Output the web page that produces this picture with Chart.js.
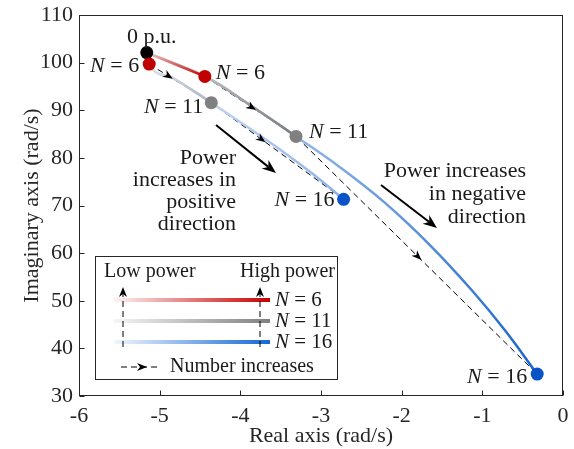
<!DOCTYPE html>
<html>
<head>
<meta charset="utf-8">
<script src="https://cdn.jsdelivr.net/npm/chart.js@4.4.1/dist/chart.umd.min.js"></script>
<style>
  html, body { margin: 0; padding: 0; background: #fff; }
  #wrap { width: 574px; height: 449px; }
</style>
</head>
<body>
<div id="wrap"><canvas id="myChart" width="574" height="449"></canvas></div>
<script>
// upper branch: power increases in negative direction
const upperRe = [-5.16, -4.44, -3.88, -3.31, -2.77, -2.21, -1.65, -1.13, -0.72, -0.32];
const upperIm = [102.1, 97.1, 91.1, 84.5, 78.1, 70.6, 61.7, 52.2, 43.8, 34.6];
// lower branch: power increases in positive direction
const lowerRe = [-5.16, -5.13, -4.87, -4.62, -4.36, -3.93, -3.48, -3.10, -2.72];
const lowerIm = [102.1, 99.7, 97.0, 94.5, 91.6, 86.7, 81.4, 76.6, 71.3];
// number of units and index of their high power point on each branch
const nUnits = ['6', '11', '16'];
const upperEnd = [1, 3, 9];
const lowerEnd = [1, 4, 8];
const xTicks = [-6, -5, -4, -3, -2, -1, 0];
const yTicks = [30, 40, 50, 60, 70, 80, 90, 100, 110];

const dotColors = ['#c00000', '#808080', '#0a52c8'];
const upperLight = ['#f0c4c4', '#e0e0e0', '#d2e0f6'];
const upperDark = ['#c00000', '#7a7a7a', '#1562cc'];
const lowerLight = ['#f0c4c4', '#e8e9ee', '#dae5f7'];
const lowerDark = ['#d47c7c', '#aeb4c2', '#8eb0e8'];
const legendLight = ['#fdf3f3', '#f6f6f6', '#f1f6fd'];
const legendDark = ['#c80000', '#808080', '#1468d4'];

const serif = '"Liberation Serif", "Times New Roman", serif';
const FS = 22;   // axes and annotations
const LS = 20;   // legend box

function pts(re, im, last) {
    const out = [];
    for (let i = 0; i <= last; i++) out.push({ x: re[i], y: im[i] });
    return out;
}

function gradient(chart, data, c0, c1) {
    const xs = chart.scales.x, ys = chart.scales.y;
    if (!xs || !ys || !chart.chartArea) return c1;
    const a = data[0], b = data[data.length - 1];
    const g = chart.ctx.createLinearGradient(
        xs.getPixelForValue(a.x), ys.getPixelForValue(a.y),
        xs.getPixelForValue(b.x), ys.getPixelForValue(b.y));
    g.addColorStop(0, c0);
    g.addColorStop(1, c1);
    return g;
}

const datasets = [];

// markers on top
const dots = [{ x: upperRe[0], y: upperIm[0] }];
const dotFill = ['#000000'];
nUnits.forEach((n, i) => {
    dots.push({ x: lowerRe[lowerEnd[i]], y: lowerIm[lowerEnd[i]] });
    dots.push({ x: upperRe[upperEnd[i]], y: upperIm[upperEnd[i]] });
    dotFill.push(dotColors[i], dotColors[i]);
});
datasets.push({
    data: dots,
    showLine: false,
    pointRadius: 6.5,
    pointBorderWidth: 0,
    pointBackgroundColor: dotFill,
    order: 0
});

nUnits.forEach((n, i) => {
    const up = pts(upperRe, upperIm, upperEnd[i]);
    const lo = pts(lowerRe, lowerIm, lowerEnd[i]);
    datasets.push({
        data: up,
        borderWidth: 2.5,
        borderColor: c => gradient(c.chart, up, upperLight[i], upperDark[i]),
        pointRadius: 0,
        tension: 0.4,
        order: i + 1
    });
    datasets.push({
        data: lo,
        borderWidth: 2.5,
        borderColor: c => gradient(c.chart, lo, lowerLight[i], lowerDark[i]),
        pointRadius: 0,
        cubicInterpolationMode: 'monotone',
        order: i + 1
    });
});

// dashed "number increases" paths
const dashUp = upperEnd.map(k => ({ x: upperRe[k], y: upperIm[k] }));
const dashLo = lowerEnd.map(k => ({ x: lowerRe[k], y: lowerIm[k] }));
[dashUp, dashLo].forEach(d => datasets.push({
    data: d,
    borderColor: '#000',
    borderWidth: 1,
    borderDash: [6, 4],
    pointRadius: 0,
    tension: 0,
    order: 5
}));

function head(ctx, tx, ty, ang, len, half) {
    const c = Math.cos(ang), s = Math.sin(ang);
    ctx.beginPath();
    ctx.moveTo(tx, ty);
    ctx.lineTo(tx - len * c + half * s, ty - len * s - half * c);
    ctx.lineTo(tx - 0.7 * len * c, ty - 0.7 * len * s);
    ctx.lineTo(tx - len * c - half * s, ty - len * s + half * c);
    ctx.closePath();
    ctx.fill();
}

function arrow(ctx, x0, y0, x1, y1, w, len, half) {
    const ang = Math.atan2(y1 - y0, x1 - x0);
    ctx.lineWidth = w;
    ctx.beginPath();
    ctx.moveTo(x0, y0);
    ctx.lineTo(x1 - 0.7 * len * Math.cos(ang), y1 - 0.7 * len * Math.sin(ang));
    ctx.stroke();
    head(ctx, x1, y1, ang, len, half);
}

function nLabel(ctx, n, x, y, align, size) {
    const it = 'italic ' + size + 'px ' + serif, rm = size + 'px ' + serif;
    const rest = ' = ' + n;
    ctx.font = it;
    const w1 = ctx.measureText('N').width;
    ctx.font = rm;
    const w2 = ctx.measureText(rest).width;
    const x0 = align === 'right' ? x - w1 - w2 : x;
    ctx.textAlign = 'left';
    ctx.textBaseline = 'middle';
    ctx.font = it;
    ctx.fillText('N', x0, y);
    ctx.font = rm;
    ctx.fillText(rest, x0 + w1, y);
}

function lines(ctx, arr, x, y0, step) {
    ctx.font = FS + 'px ' + serif;
    ctx.textAlign = 'right';
    ctx.textBaseline = 'middle';
    arr.forEach((t, k) => ctx.fillText(t, x, y0 + k * step));
}

const decor = {
    id: 'decor',
    beforeDatasetsDraw(chart) {
        const { ctx, chartArea: a, scales: { x, y } } = chart;
        ctx.save();
        ctx.strokeStyle = '#262626';
        ctx.lineWidth = 1;
        const L = Math.round(a.left) + 0.5, R = Math.round(a.right) - 0.5;
        const T = Math.round(a.top) + 0.5, B = Math.round(a.bottom) - 0.5;
        ctx.strokeRect(L, T, R - L, B - T);
        ctx.beginPath();
        xTicks.forEach(v => {
            const px = Math.round(x.getPixelForValue(v)) + 0.5;
            ctx.moveTo(px, B); ctx.lineTo(px, B - 5);
        });
        yTicks.forEach(v => {
            const py = Math.round(y.getPixelForValue(v)) + 0.5;
            ctx.moveTo(L, py); ctx.lineTo(L + 5, py);
        });
        ctx.stroke();
        ctx.restore();
    },
    afterDatasetsDraw(chart) {
        const { ctx, scales: { x, y } } = chart;
        const P = p => [x.getPixelForValue(p.x), y.getPixelForValue(p.y)];
        ctx.save();
        ctx.fillStyle = '#000';
        ctx.strokeStyle = '#000';

        // arrowheads on the dashed paths
        const heads = [[dashUp, [0.56, 0.52]], [dashLo, [0.38, 0.41]]];
        heads.forEach(([d, ts]) => {
            for (let k = 0; k < d.length - 1; k++) {
                const [x0, y0] = P(d[k]), [x1, y1] = P(d[k + 1]);
                const t = ts[k];
                head(ctx, x0 + t * (x1 - x0), y0 + t * (y1 - y0), Math.atan2(y1 - y0, x1 - x0), 10, 4);
            }
        });

        // power direction arrows
        arrow(ctx, 216, 125, 276, 173, 2, 14, 5.5);
        arrow(ctx, 381, 185, 437, 228, 2, 14, 5.5);

        ctx.fillStyle = '#1a1a1a';
        // labels at the markers
        const [bx, by] = P(dots[0]);
        ctx.font = FS + 'px ' + serif;
        ctx.textAlign = 'center';
        ctx.textBaseline = 'middle';
        ctx.fillText('0 p.u.', bx + 5, by - 15);
        const offs = [[-10, 2, 11, -3], [-8, 5, 13, -4], [-9, 1, -10, 3]];
        nUnits.forEach((n, i) => {
            const [lx, ly] = P(dots[1 + 2 * i]);
            const [rx, ry] = P(dots[2 + 2 * i]);
            const o = offs[i];
            nLabel(ctx, n, lx + o[0], ly + o[1], 'right', FS);
            nLabel(ctx, n, rx + o[2], ry + o[3], i === 2 ? 'right' : 'left', FS);
        });

        lines(ctx, ['Power', 'increases in', 'positive', 'direction'], 236, 158, 22);
        lines(ctx, ['Power increases', 'in negative', 'direction'], 526, 171, 23);

        // legend box
        ctx.strokeStyle = '#262626';
        ctx.lineWidth = 1;
        ctx.fillStyle = '#fff';
        ctx.fillRect(95.5, 256.5, 242, 123);
        ctx.strokeRect(95.5, 256.5, 242, 123);
        ctx.fillStyle = '#1a1a1a';
        ctx.font = LS + 'px ' + serif;
        ctx.textBaseline = 'middle';
        ctx.textAlign = 'left';
        ctx.fillText('Low power', 104, 272);
        ctx.textAlign = 'right';
        ctx.fillText('High power', 335, 272);
        const ly = [300, 321, 342];
        nUnits.forEach((n, i) => {
            const g = ctx.createLinearGradient(114, 0, 270, 0);
            g.addColorStop(0, legendLight[i]);
            g.addColorStop(1, legendDark[i]);
            ctx.strokeStyle = g;
            ctx.lineWidth = 4;
            ctx.beginPath();
            ctx.moveTo(114, ly[i]);
            ctx.lineTo(270, ly[i]);
            ctx.stroke();
            ctx.fillStyle = '#1a1a1a';
            nLabel(ctx, n, 275, ly[i], 'left', 21);
        });
        ctx.strokeStyle = '#000';
        ctx.fillStyle = '#000';
        ctx.lineWidth = 1;
        ctx.setLineDash([6, 4]);
        ctx.beginPath();
        [123, 260].forEach(px => { ctx.moveTo(px, 347); ctx.lineTo(px, 294); });
        ctx.moveTo(121, 367); ctx.lineTo(161, 367);
        ctx.stroke();
        ctx.setLineDash([]);
        head(ctx, 123, 287, -Math.PI / 2, 10, 4);
        head(ctx, 260, 287, -Math.PI / 2, 10, 4);
        head(ctx, 147, 367, 0, 10, 4);
        ctx.fillStyle = '#1a1a1a';
        ctx.textAlign = 'left';
        ctx.font = LS + 'px ' + serif;
        ctx.fillText('Number increases', 170, 367);
        ctx.restore();
    }
};

const tickFont = { family: serif, size: FS };

new Chart(document.getElementById('myChart'), {
    type: 'line',
    data: { datasets: datasets },
    options: {
        responsive: false,
        animation: false,
        layout: { autoPadding: false, padding: { top: 15, right: 11, left: 0, bottom: 0 } },
        plugins: {
            legend: { display: false },
            tooltip: { enabled: false }
        },
        scales: {
            x: {
                type: 'linear',
                min: -6,
                max: 0,
                afterBuildTicks: s => { s.ticks = xTicks.map(v => ({ value: v })); },
                afterFit: s => { s.height = 53; s.paddingLeft = 0; s.paddingRight = 0; },
                grid: { display: false, drawTicks: false },
                border: { display: false },
                ticks: { font: tickFont, color: '#262626', padding: 7, maxRotation: 0 },
                title: { display: true, text: 'Real axis (rad/s)', font: tickFont, color: '#262626', padding: { top: 0, bottom: 0 } }
            },
            y: {
                type: 'linear',
                min: 30,
                max: 110,
                afterBuildTicks: s => { s.ticks = yTicks.map(v => ({ value: v })); },
                afterFit: s => { s.width = 79; s.paddingTop = 0; s.paddingBottom = 0; },
                grid: { display: false, drawTicks: false },
                border: { display: false },
                ticks: { font: tickFont, color: '#262626', padding: 6 },
                title: { display: true, text: 'Imaginary axis (rad/s)', font: tickFont, color: '#262626', padding: { top: 19, bottom: 0 } }
            }
        }
    },
    plugins: [decor]
});
</script>
</body>
</html>
